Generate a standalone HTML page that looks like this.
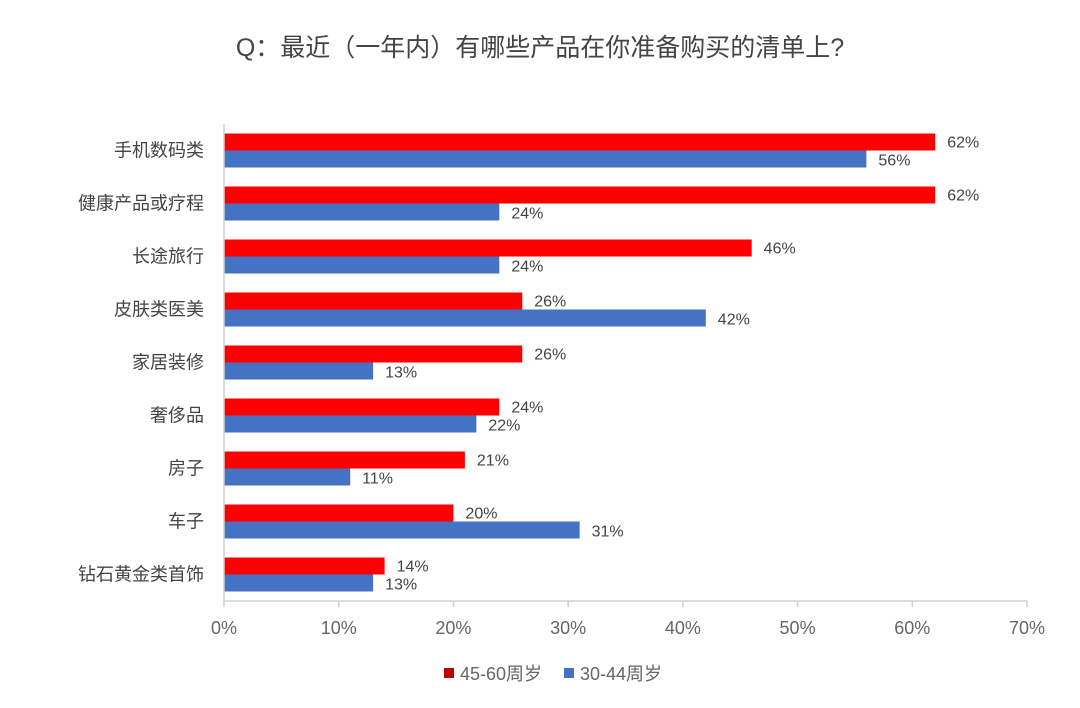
<!DOCTYPE html>
<html><head><meta charset="utf-8"><style>
body{margin:0;background:#fff;}
svg{display:block;font-family:"Liberation Sans","Noto Sans CJK SC",sans-serif;}
</style></head><body>
<svg id="chart" width="1080" height="708" viewBox="0 0 1080 708">
<text x="540" y="56" text-anchor="middle" font-size="25" fill="#444">Q：最近（一年内）有哪些产品在你准备购买的清单上?</text>
<g id="bars"></g>
<line x1="224" y1="601" x2="1027" y2="601" stroke="#d0d0d0" stroke-width="1.5"/>
<line x1="224" y1="124" x2="224" y2="601" stroke="#d0d0d0" stroke-width="1.5"/>
<g id="ticks"></g>
<g>
<rect x="444" y="668" width="10" height="10" fill="#c00000"/>
<text x="460" y="680" font-size="18" fill="#666">45-60周岁</text>
<rect x="564" y="668" width="10" height="10" fill="#4472c4"/>
<text x="580" y="680" font-size="18" fill="#666">30-44周岁</text>
</g>
</svg>
<script>
const categories=["手机数码类","健康产品或疗程","长途旅行","皮肤类医美","家居装修","奢侈品","房子","车子","钻石黄金类首饰"];
const seriesOld=[62,62,46,26,26,24,21,20,14];
const seriesYoung=[56,24,24,42,13,22,11,31,13];
const tickLabels=["0%","10%","20%","30%","40%","50%","60%","70%"];
const tickValues=[0,10,20,30,40,50,60,70];
const NS="http://www.w3.org/2000/svg";
const x0=224,x1=1027,vmax=70,yTop=124,yBottom=601;
const xs=v=>x0+(v/vmax)*(x1-x0);
const band=(yBottom-yTop)/categories.length;
const yc=i=>yTop+band*(i+0.5);
function mk(t,a){const e=document.createElementNS(NS,t);for(const k in a)e.setAttribute(k,a[k]);return e;}
const g=document.getElementById('bars');
categories.forEach((c,i)=>{
 const cy=yc(i);
 const lab=mk('text',{x:204,y:cy+6,'text-anchor':'end','font-size':18,fill:'#444'});
 
 
 lab.textContent=c;g.appendChild(lab);
 const r1=mk('rect',{x:x0,y:cy-17,width:xs(seriesOld[i])-x0,height:17,fill:'#ff0000'});
 
 
 g.appendChild(r1);
 const r2=mk('rect',{x:x0,y:cy,width:xs(seriesYoung[i])-x0,height:17,fill:'#4472c4'});
 
 
 g.appendChild(r2);
 const v1=mk('text',{x:xs(seriesOld[i])+12,y:cy-3,'font-size':16,fill:'#444'});
 
 
 v1.textContent=seriesOld[i]+'%';g.appendChild(v1);
 const v2=mk('text',{x:xs(seriesYoung[i])+12,y:cy+15,'font-size':16,fill:'#444'});
 
 
 v2.textContent=seriesYoung[i]+'%';g.appendChild(v2);
});
const tg=document.getElementById('ticks');
tickValues.forEach((v,i)=>{
 const x=xs(v);
 const tl=mk('line',{x1:x,y1:601,x2:x,y2:607,stroke:'#d0d0d0','stroke-width':1.5});
 
 
 tg.appendChild(tl);
 const t=mk('text',{x:x,y:634,'text-anchor':'middle','font-size':18,fill:'#666'});
 
 
 t.textContent=tickLabels[i];tg.appendChild(t);
});
</script>
</body></html>
